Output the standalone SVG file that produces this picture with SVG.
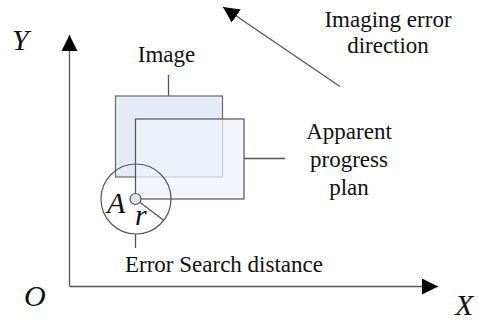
<svg xmlns="http://www.w3.org/2000/svg" width="478" height="320" viewBox="0 0 478 320">
<style>
.t{font-family:'Liberation Serif','Times New Roman',serif;font-size:23px;fill:#111}
.i{font-family:'Liberation Serif','Times New Roman',serif;font-size:30px;font-style:italic;fill:#111}
.ln{stroke:#555;stroke-width:1.3;fill:none}
</style>
<defs>
<marker id="ah" viewBox="0 0 10 10" refX="10" refY="5" markerWidth="16" markerHeight="16" markerUnits="userSpaceOnUse" orient="auto">
<path d="M0,0 L10,5 L0,10 Z" fill="#000"/>
</marker>
</defs>
<g id="connectors">
<line class="ln" x1="69.5" y1="286.5" x2="69.5" y2="35" marker-end="url(#ah)"/>
<line class="ln" x1="69.5" y1="286.5" x2="438" y2="286.5" marker-end="url(#ah)"/>
<line class="ln" x1="340" y1="86.5" x2="223" y2="7" marker-end="url(#ah)"/>
<line class="ln" x1="168.5" y1="75" x2="168.5" y2="96"/>
<line class="ln" x1="244" y1="158.5" x2="285" y2="158.5"/>
<line class="ln" x1="135.5" y1="234" x2="135.5" y2="248"/>
</g>
<g id="image">
<rect x="115.5" y="96" width="107" height="81" fill="#e5ebf6" stroke="#666" stroke-width="1.2"/>
<text class="t" x="166.5" y="62" text-anchor="middle">Image</text>
</g>
<g id="apparent">
<rect x="135.5" y="119" width="108.5" height="80" fill="#edf1fa" fill-opacity="0.75" stroke="#555" stroke-width="1.2"/>
<text class="t" x="349" y="139" text-anchor="middle">Apparent</text>
<text class="t" x="349" y="167" text-anchor="middle">progress</text>
<text class="t" x="349" y="195" text-anchor="middle">plan</text>
</g>
<g id="search">
<circle cx="136" cy="199" r="35" fill="none" stroke="#555" stroke-width="1.2"/>
<line class="ln" x1="135.5" y1="199" x2="164" y2="220.5"/>
<circle cx="135.5" cy="199" r="5.5" fill="#dde5f3" stroke="#555" stroke-width="1.2"/>
<text class="i" x="107" y="212.5">A</text>
<text class="i" x="135" y="224.5">r</text>
<text class="t" x="125" y="272">Error Search distance</text>
</g>
<g id="direction">
<text class="t" x="388" y="27" text-anchor="middle">Imaging error</text>
<text class="t" x="388" y="53" text-anchor="middle">direction</text>
</g>
<g id="axes-labels">
<text class="i" x="12" y="50">Y</text>
<text class="i" x="24" y="306">O</text>
<text class="i" x="455" y="315">X</text>
</g>
</svg>
